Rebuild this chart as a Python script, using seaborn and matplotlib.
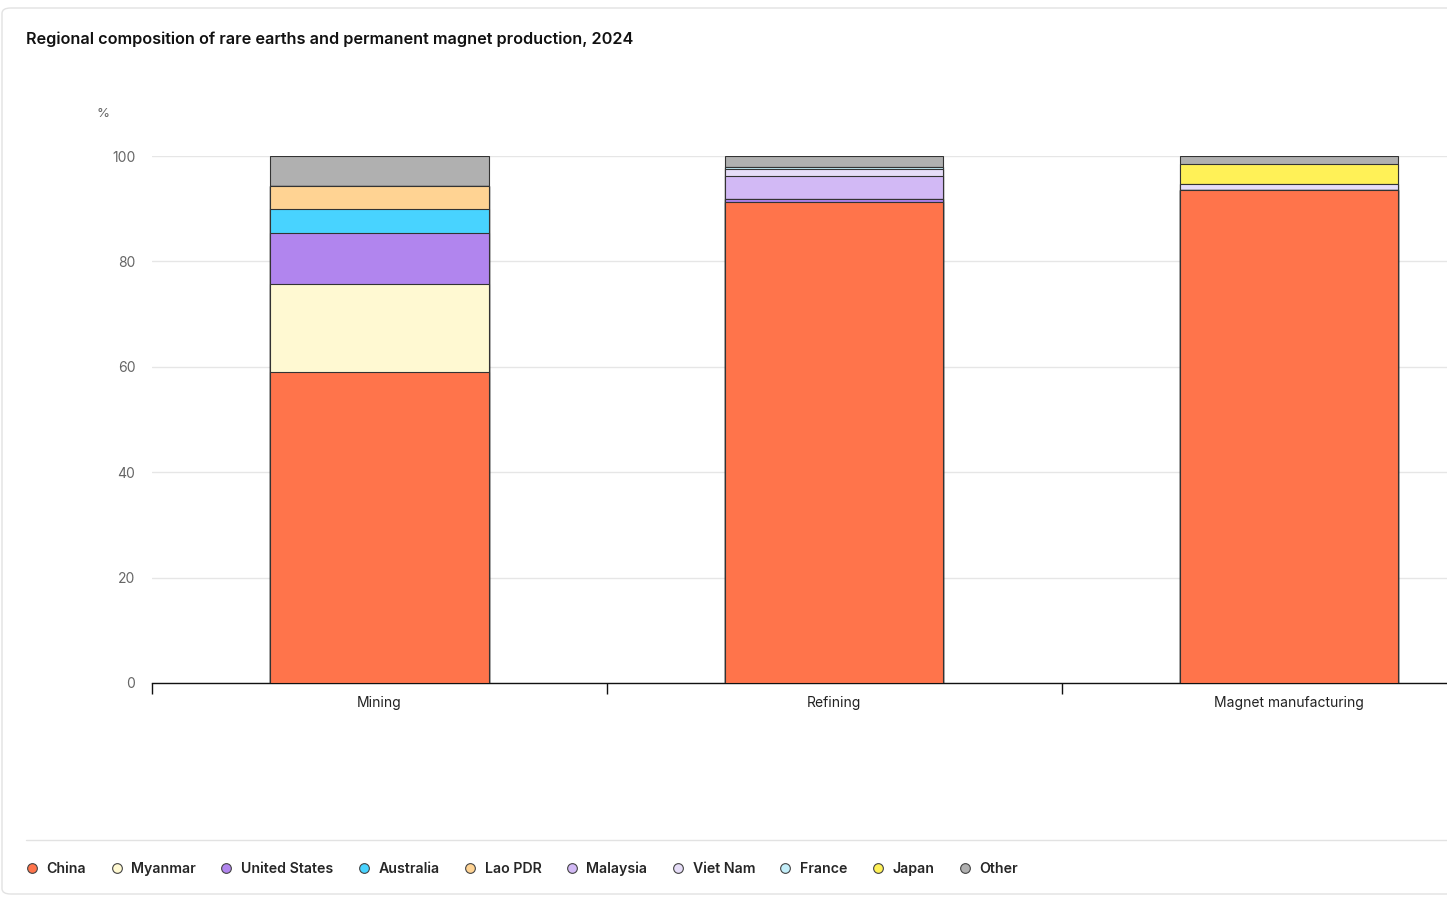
import matplotlib
matplotlib.use("Agg")
import matplotlib.pyplot as plt
from matplotlib.lines import Line2D
from matplotlib.patches import FancyBboxPatch
import seaborn as sns
import pandas as pd
import numpy as np

stages = ["Mining", "Refining", "Magnet manufacturing"]
countries = ["China", "Myanmar", "United States", "Australia", "Lao PDR",
             "Malaysia", "Viet Nam", "France", "Japan", "Other"]
colors = ["#ff744b", "#fff9d2", "#b185ee", "#48d3ff", "#ffd393",
          "#d2b9f5", "#e6ddf8", "#c3eef9", "#fff157", "#b0b0b0"]

# shares in %, per stage
china = [59.0, 91.2, 93.5]
myanmar = [16.7, 0.0, 0.0]
united_states = [9.7, 0.6, 0.0]
australia = [4.5, 0.0, 0.0]
lao_pdr = [4.4, 0.0, 0.0]
malaysia = [0.0, 4.4, 0.0]
viet_nam = [0.0, 1.3, 1.1]
france = [0.0, 0.5, 0.0]
japan = [0.0, 0.0, 3.9]
other = [5.7, 2.0, 1.5]

df = pd.DataFrame({"stage": stages, "China": china, "Myanmar": myanmar,
                   "United States": united_states, "Australia": australia,
                   "Lao PDR": lao_pdr, "Malaysia": malaysia, "Viet Nam": viet_nam,
                   "France": france, "Japan": japan, "Other": other})
cum = df[countries].cumsum(axis=1)

sns.set_theme(style="white")
plt.rcParams["font.family"] = ["Inter", "DejaVu Sans"]

fig = plt.figure(figsize=(14.47, 8.97), dpi=100)
ax = fig.add_axes([152 / 1447, 1 - 683 / 897, 1 - 152 / 1447, (683 - 156) / 897])

# stacked bars: draw cumulative totals from top layer down
for c, col in reversed(list(zip(countries, colors))):
    sns.barplot(x=df["stage"], y=cum[c], color=col, width=0.48, ax=ax,
                edgecolor="#333333", linewidth=0.8, saturation=1, zorder=3)

ax.set_xlim(-0.5, (1447 - 380) / 454.5)
ax.set_ylim(0, 100)
ax.set_yticks([0, 20, 40, 60, 80, 100])
ax.yaxis.grid(True, color="#e6e6e6", linewidth=1)
ax.set_axisbelow(True)
for s in ["top", "right", "left"]:
    ax.spines[s].set_visible(False)
ax.spines["bottom"].set_color("#111111")
ax.spines["bottom"].set_linewidth(1)
ax.set_xlabel("")
ax.set_ylabel("")
ax.tick_params(axis="y", length=0, pad=12, labelsize=10, labelcolor="#666666")
ax.tick_params(axis="x", which="major", length=0, pad=9, labelsize=10, labelcolor="#222222")
ax.set_xticks([-0.5, 0.5, 1.5], minor=True)
ax.tick_params(axis="x", which="minor", length=8, width=1, color="#111111", bottom=True)

fig.text(103 / 1447, 1 - 114 / 897, "%", fontsize=9.5, color="#666666", ha="center", va="center")
fig.text(26 / 1447, 1 - 39 / 897, "Regional composition of rare earths and permanent magnet production, 2024",
         fontsize=11.7, fontweight="semibold", color="#111111", va="center")

fig.add_artist(FancyBboxPatch((2 / 1447, 3 / 897), 1.2, 1 - 11 / 897,
                              boxstyle="round,pad=0,rounding_size=0.006",
                              transform=fig.transFigure, facecolor="none",
                              edgecolor="#e2e2e2", linewidth=1))
fig.add_artist(Line2D([26 / 1447, 1], [1 - 840 / 897] * 2, transform=fig.transFigure,
                      color="#e2e2e2", linewidth=1))

handles = [Line2D([], [], marker="o", linestyle="none", markersize=7,
                  markerfacecolor=col, markeredgecolor="#444444", markeredgewidth=0.8)
           for col in colors]
fig.legend(handles, countries, loc="center left", bbox_to_anchor=(12 / 1447, 1 - 869 / 897),
           ncol=10, frameon=False, handletextpad=0.55, columnspacing=1.63,
           handlelength=1.0, prop={"size": 10.2, "weight": "semibold"})

fig.savefig("out.png", dpi=100)
